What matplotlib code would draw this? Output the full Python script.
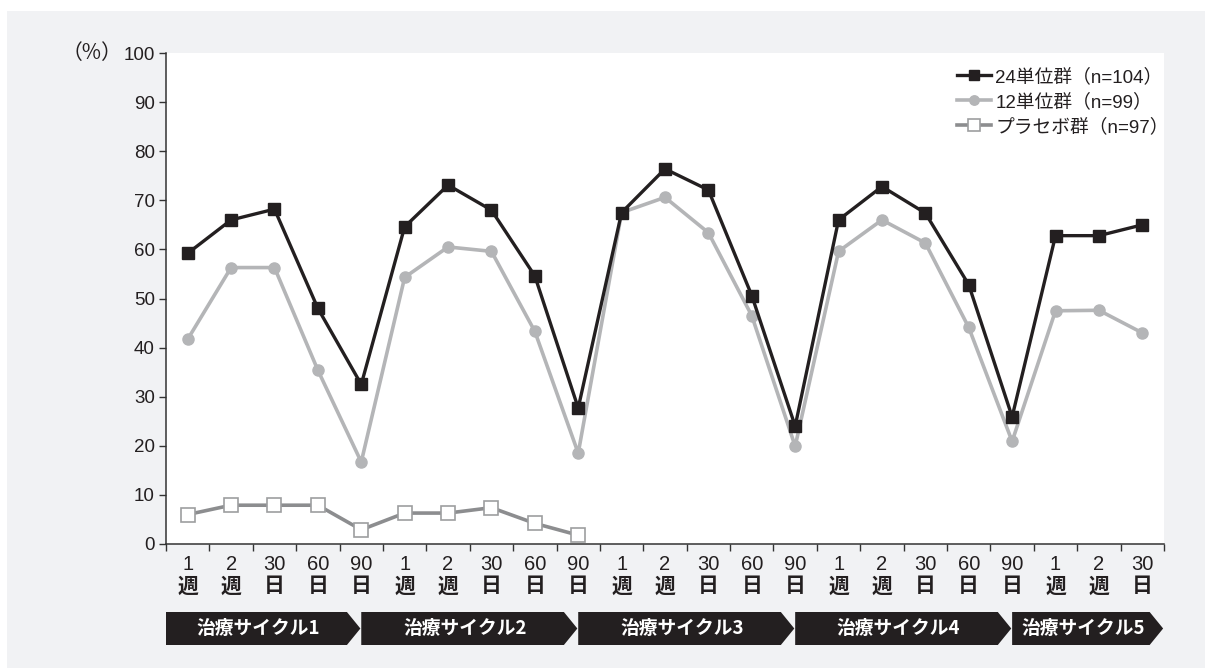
import matplotlib
matplotlib.use("Agg")
import matplotlib.pyplot as plt
from matplotlib.patches import Rectangle, Polygon
import matplotlib.transforms as mtransforms

plt.rcParams['font.family'] = ['Liberation Sans', 'Noto Sans CJK JP', 'DejaVu Sans']

# x categories: 5 cycles, last one only up to day 30
tick_nums = ["1", "2", "30", "60", "90"] * 4 + ["1", "2", "30"]
tick_units = ["週", "週", "日", "日", "日"] * 4 + ["週", "週", "日"]

group24 = [59.2, 66.0, 68.2, 48.0, 32.5,
           64.6, 73.1, 68.0, 54.6, 27.7,
           67.5, 76.4, 72.1, 50.6, 24.0,
           66.0, 72.8, 67.4, 52.8, 25.9,
           62.8, 62.8, 65.0]
group12 = [41.7, 56.3, 56.3, 35.4, 16.7,
           54.3, 60.5, 59.6, 43.3, 18.5,
           67.5, 70.6, 63.4, 46.5, 19.9,
           59.6, 66.0, 61.3, 44.1, 20.9,
           47.5, 47.6, 43.0]
placebo = [6.0, 7.9, 7.9, 7.9, 2.9, 6.3, 6.3, 7.4, 4.2, 1.8]

labels = ["24単位群（n=104）", "12単位群（n=99）", "プラセボ群（n=97）"]
cycle_names = ["治療サイクル1", "治療サイクル2", "治療サイクル3", "治療サイクル4", "治療サイクル5"]
cycle_edges = [-0.5, 4, 9, 14, 19, 22.5]

black = "#231f20"
light = "#b4b5b7"
mid = "#8c8d8f"
panel = "#f1f2f4"

W, H = 1205, 668
fig = plt.figure(figsize=(W / 100, H / 100), dpi=100)
fig.patch.set_facecolor("white")
fig.patches.append(Rectangle((7 / W, 0), 1, 1 - 11 / H, transform=fig.transFigure,
                             facecolor=panel, edgecolor="none", zorder=-10))

ax_l, ax_r, ax_t, ax_b = 166, 1164, 53, 544
ax = fig.add_axes([ax_l / W, 1 - ax_b / H, (ax_r - ax_l) / W, (ax_b - ax_t) / H])
ax.set_facecolor("white")

n = len(tick_nums)
xs = list(range(n))

ax.plot(xs[:len(placebo)], placebo, color=mid, lw=2.6, marker="s", ms=10,
        mfc="white", mec="#9d9ea0", mew=1.2, label=labels[2], zorder=3)
ax.plot(xs, group12, color=light, lw=2.6, marker="o", ms=8,
        mfc=light, mec=light, label=labels[1], zorder=4)
ax.plot(xs, group24, color=black, lw=2.4, marker="s", ms=9,
        mfc=black, mec=black, label=labels[0], zorder=5)

ax.set_xlim(-0.5, n - 0.5)
ax.set_ylim(0, 100)
ax.set_yticks(range(0, 101, 10))
ax.tick_params(axis="y", direction="out", length=5, width=1, color="#333333",
               labelsize=13.5, labelcolor=black, pad=3)
ax.set_xticks([i - 0.5 for i in range(n + 1)])
ax.set_xticklabels([])
ax.tick_params(axis="x", direction="out", length=5, width=1, color="#333333")
for s in ["top", "right"]:
    ax.spines[s].set_visible(False)
for s in ["left", "bottom"]:
    ax.spines[s].set_color("#333333")
    ax.spines[s].set_linewidth(1.1)

trans = mtransforms.blended_transform_factory(ax.transData, ax.transAxes)
axh = ax_b - ax_t


def ay(ypix):
    return (ax_b - ypix) / axh


for i in range(n):
    ax.text(i, ay(565), tick_nums[i], transform=trans, ha="center", va="center",
            fontsize=14.5, color=black)
    ax.text(i, ay(586), tick_units[i], transform=trans, ha="center", va="center",
            fontsize=15, fontweight="bold", color=black, family="Noto Sans CJK JP")

# cycle banners
tip = 0.33
y0, y1 = ay(645), ay(612)
for k, name in enumerate(cycle_names):
    a, b = cycle_edges[k], cycle_edges[k + 1]
    pts = [(a, y0), (b - tip, y0), (b - 0.02, (y0 + y1) / 2), (b - tip, y1), (a, y1)]
    ax.add_patch(Polygon(pts, closed=True, transform=trans, facecolor=black,
                         edgecolor="none", clip_on=False))
    ax.text((a + b - tip) / 2 + 0.05, (y0 + y1) / 2, name, transform=trans,
            ha="center", va="center", color="white", fontsize=13.5, fontweight="bold",
            family="Noto Sans CJK JP")

fig.text(92 / W, 1 - 53 / H, "（%）", ha="center", va="center", fontsize=15,
         color=black, family="Noto Sans CJK JP")

handles, labs = ax.get_legend_handles_labels()
order = [2, 1, 0]
leg = ax.legend([handles[i] for i in order], [labs[i] for i in order],
                loc="upper left", bbox_to_anchor=((957 - ax_l) / (ax_r - ax_l), ay(68)),
                frameon=False, fontsize=13.5, handlelength=1.8, handletextpad=0.25,
                labelspacing=0.38, borderaxespad=0, borderpad=0, markerscale=0.85)
for t in leg.get_texts():
    t.set_color(black)

fig.savefig("out.png", dpi=100, facecolor=fig.get_facecolor())
